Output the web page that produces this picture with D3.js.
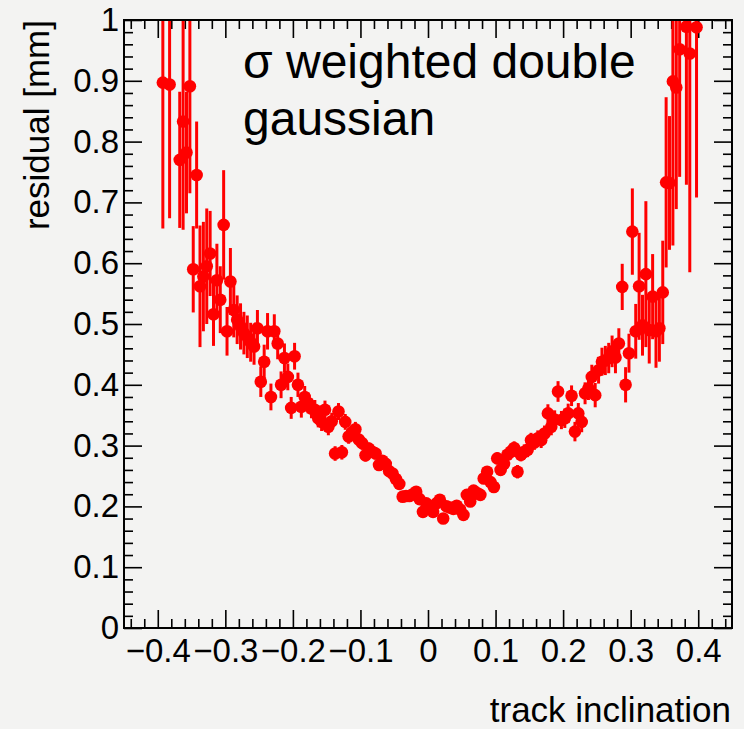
<!DOCTYPE html>
<html>
<head>
<meta charset="utf-8">
<script src="https://cdn.jsdelivr.net/npm/d3@7"></script>
<style>
  html, body { margin: 0; padding: 0; background: #f3f3f2; }
  svg { display: block; }
  text { font-family: "Liberation Sans", Arial, Helvetica, sans-serif; fill: #000; }
</style>
</head>
<body>
<svg id="chart" width="744" height="729"></svg>
<script>
// ---- data ----
const inclination = [
  -0.3925, -0.3825, -0.3675, -0.3625, -0.3575, -0.3525, -0.3475, -0.3425, -0.3375, -0.3325,
  -0.3275, -0.3225, -0.3175, -0.3125, -0.3075, -0.3025, -0.2975, -0.2925, -0.2875, -0.2825,
  -0.2775, -0.2725, -0.2675, -0.2625, -0.2575, -0.2525, -0.2475, -0.2425, -0.2375, -0.2325,
  -0.2275, -0.2225, -0.2175, -0.2125, -0.2075, -0.2025, -0.1975, -0.1925, -0.1875, -0.1825,
  -0.1775, -0.1725, -0.1675, -0.1625, -0.1575, -0.1525, -0.1475, -0.1425, -0.1375, -0.1325,
  -0.1275, -0.1225, -0.1175, -0.1125, -0.1075, -0.1025, -0.0975, -0.0925, -0.0875, -0.0825,
  -0.0775, -0.0725, -0.0675, -0.0625, -0.0575, -0.0525, -0.0475, -0.0425, -0.0375, -0.0325,
  -0.0275, -0.0225, -0.0175, -0.0125, -0.0075, -0.0025, 0.0025, 0.0075, 0.0125, 0.0175,
  0.0225, 0.0275, 0.0325, 0.0375, 0.0425, 0.0475, 0.0525, 0.0575, 0.0625, 0.0675,
  0.0725, 0.0775, 0.0825, 0.0875, 0.0925, 0.0975, 0.1025, 0.1075, 0.1125, 0.1175,
  0.1225, 0.1275, 0.1325, 0.1375, 0.1425, 0.1475, 0.1525, 0.1575, 0.1625, 0.1675,
  0.1725, 0.1775, 0.1825, 0.1875, 0.1925, 0.1975, 0.2025, 0.2075, 0.2125, 0.2175,
  0.2225, 0.2275, 0.2325, 0.2375, 0.2425, 0.2475, 0.2525, 0.2575, 0.2625, 0.2675,
  0.2725, 0.2775, 0.2825, 0.2875, 0.2925, 0.2975, 0.3025, 0.3075, 0.3125, 0.3175,
  0.3225, 0.3275, 0.3325, 0.3375, 0.3425, 0.3475, 0.3525, 0.3575, 0.3625, 0.3675,
  0.3725, 0.3825, 0.3875, 0.3975
];
const residual = [
  0.897, 0.894, 0.770, 0.833, 0.782, 0.891, 0.590, 0.745, 0.562, 0.578,
  0.595, 0.616, 0.516, 0.572, 0.540, 0.663, 0.488, 0.570, 0.523, 0.507,
  0.496, 0.485, 0.479, 0.470, 0.463, 0.493, 0.405, 0.438, 0.488, 0.380,
  0.488, 0.468, 0.400, 0.444, 0.413, 0.362, 0.447, 0.400, 0.364, 0.380,
  0.370, 0.361, 0.359, 0.345, 0.339, 0.359, 0.331, 0.340, 0.287, 0.356,
  0.289, 0.339, 0.315, 0.322, 0.327, 0.310, 0.304, 0.284, 0.295, 0.290,
  0.287, 0.268, 0.275, 0.270, 0.258, 0.254, 0.245, 0.237, 0.216, 0.217,
  0.217, 0.220, 0.224, 0.212, 0.191, 0.205, 0.200, 0.191, 0.205, 0.211,
  0.180, 0.200, 0.198, 0.196, 0.201, 0.195, 0.186, 0.219, 0.208, 0.226,
  0.222, 0.219, 0.246, 0.257, 0.240, 0.232, 0.279, 0.260, 0.270, 0.285,
  0.290, 0.296, 0.257, 0.285, 0.290, 0.293, 0.309, 0.305, 0.312, 0.309,
  0.320, 0.353, 0.331, 0.343, 0.389, 0.342, 0.345, 0.353, 0.382, 0.323,
  0.353, 0.339, 0.386, 0.394, 0.413, 0.383, 0.424, 0.438, 0.440, 0.444,
  0.455, 0.445, 0.468, 0.561, 0.400, 0.452, 0.652, 0.488, 0.562, 0.498,
  0.582, 0.490, 0.545, 0.488, 0.493, 0.552, 0.733, 0.732, 0.899, 0.889,
  0.952, 0.989, 0.945, 0.988
];
const residualError = [
  0.240, 0.220, 0.112, 0.178, 0.100, 0.176, 0.071, 0.088, 0.100, 0.090,
  0.095, 0.070, 0.052, 0.060, 0.055, 0.090, 0.040, 0.055, 0.045, 0.040,
  0.038, 0.035, 0.035, 0.032, 0.030, 0.030, 0.025, 0.028, 0.030, 0.022,
  0.028, 0.026, 0.022, 0.024, 0.022, 0.018, 0.022, 0.020, 0.018, 0.018,
  0.017, 0.016, 0.016, 0.015, 0.015, 0.015, 0.014, 0.014, 0.012, 0.014,
  0.012, 0.013, 0.012, 0.012, 0.012, 0.011, 0.011, 0.010, 0.010, 0.010,
  0.010, 0.009, 0.009, 0.009, 0.009, 0.009, 0.008, 0.008, 0.008, 0.008,
  0.008, 0.008, 0.008, 0.008, 0.008, 0.008, 0.008, 0.008, 0.008, 0.008,
  0.008, 0.008, 0.008, 0.008, 0.008, 0.008, 0.008, 0.008, 0.008, 0.008,
  0.008, 0.008, 0.009, 0.009, 0.009, 0.009, 0.010, 0.010, 0.010, 0.010,
  0.011, 0.011, 0.011, 0.011, 0.012, 0.012, 0.012, 0.012, 0.013, 0.013,
  0.013, 0.015, 0.014, 0.015, 0.017, 0.015, 0.016, 0.016, 0.017, 0.016,
  0.017, 0.017, 0.018, 0.019, 0.020, 0.020, 0.022, 0.023, 0.024, 0.025,
  0.026, 0.026, 0.025, 0.038, 0.029, 0.032, 0.071, 0.045, 0.088, 0.050,
  0.120, 0.055, 0.070, 0.060, 0.055, 0.085, 0.140, 0.110, 0.270, 0.200,
  0.210, 0.260, 0.360, 0.280
];
const xTickValues = [-0.4, -0.3, -0.2, -0.1, 0, 0.1, 0.2, 0.3, 0.4];
const xTickLabels = ["\u22120.4", "\u22120.3", "\u22120.2", "\u22120.1", "0", "0.1", "0.2", "0.3", "0.4"];
const yTickValues = [0, 0.1, 0.2, 0.3, 0.4, 0.5, 0.6, 0.7, 0.8, 0.9, 1];
const yTickLabels = ["0", "0.1", "0.2", "0.3", "0.4", "0.5", "0.6", "0.7", "0.8", "0.9", "1"];
const xTitle = "track inclination";
const yTitle = "residual [mm]";
const annotation = ["\u03C3 weighted double", "gaussian"];

(function () {
// ---- layout ----
const W = 744, H = 729;
const pL = 124, pR = 732, pT = 20, pB = 628;
const red = "#ff0000";
const svg = d3.select("#chart");
svg.append("rect").attr("width", W).attr("height", H).attr("fill", "#f3f3f2");

const x = d3.scaleLinear().domain([-0.45, 0.45]).range([pL, pR]);
const y = d3.scaleLinear().domain([0, 1]).range([pB, pT]);

const xMinor = d3.range(-44, 45, 2).map(v => v / 100).filter(v => Math.abs(Math.round(v * 100) % 10) !== 0);
const yMinor = d3.range(0, 101, 2).map(v => v / 100).filter(v => Math.round(v * 100) % 10 !== 0);

const fmtX = (d) => xTickLabels[xTickValues.indexOf(d)];
const fmtY = (d) => yTickLabels[yTickValues.indexOf(d)];

function styleAxis(g) {
  g.select(".domain").remove();
  g.selectAll(".tick line").attr("stroke", "#000").attr("stroke-width", 1.6);
  g.selectAll(".tick text").attr("font-size", 33).attr("fill", "#000")
    .style("font-family", '"Liberation Sans", Arial, sans-serif');
}

// bottom axis
svg.append("g").attr("transform", `translate(0,${pB})`)
  .call(d3.axisBottom(x).tickValues(xTickValues).tickSize(-18).tickPadding(11).tickFormat(fmtX))
  .call(styleAxis);
svg.append("g").attr("transform", `translate(0,${pB})`)
  .call(d3.axisBottom(x).tickValues(xMinor).tickSize(-9).tickFormat(""))
  .call(styleAxis);
// top axis
svg.append("g").attr("transform", `translate(0,${pT})`)
  .call(d3.axisTop(x).tickValues(xTickValues).tickSize(-18).tickFormat(""))
  .call(styleAxis);
svg.append("g").attr("transform", `translate(0,${pT})`)
  .call(d3.axisTop(x).tickValues(xMinor).tickSize(-9).tickFormat(""))
  .call(styleAxis);
// left axis
svg.append("g").attr("transform", `translate(${pL},0)`)
  .call(d3.axisLeft(y).tickValues(yTickValues).tickSize(-18).tickPadding(5).tickFormat(fmtY))
  .call(styleAxis);
svg.append("g").attr("transform", `translate(${pL},0)`)
  .call(d3.axisLeft(y).tickValues(yMinor).tickSize(-9).tickFormat(""))
  .call(styleAxis);
// right axis
svg.append("g").attr("transform", `translate(${pR},0)`)
  .call(d3.axisRight(y).tickValues(yTickValues).tickSize(-18).tickFormat(""))
  .call(styleAxis);
svg.append("g").attr("transform", `translate(${pR},0)`)
  .call(d3.axisRight(y).tickValues(yMinor).tickSize(-9).tickFormat(""))
  .call(styleAxis);

// frame
svg.append("rect").attr("x", pL).attr("y", pT)
  .attr("width", pR - pL).attr("height", pB - pT)
  .attr("fill", "none").attr("stroke", "#000").attr("stroke-width", 2);

// clip
svg.append("clipPath").attr("id", "plotclip").append("rect")
  .attr("x", pL + 1).attr("y", pT + 1).attr("width", pR - pL - 2).attr("height", pB - pT - 2);

const pts = inclination.map((v, i) => ({ x: v, y: residual[i], e: residualError[i] }));
const gData = svg.append("g").attr("clip-path", "url(#plotclip)");
gData.selectAll("line.err").data(pts).join("line").attr("class", "err")
  .attr("x1", d => x(d.x)).attr("x2", d => x(d.x))
  .attr("y1", d => y(d.y - d.e)).attr("y2", d => y(d.y + d.e))
  .attr("stroke", red).attr("stroke-width", 3);
gData.selectAll("circle").data(pts).join("circle")
  .attr("cx", d => x(d.x)).attr("cy", d => y(d.y)).attr("r", 6.3)
  .attr("fill", red);

// titles
svg.append("text").attr("x", pR - 1).attr("y", 722).attr("text-anchor", "end")
  .attr("font-size", 35).text(xTitle);
svg.append("text").attr("transform", `translate(49,${pT}) rotate(-90)`)
  .attr("text-anchor", "end").attr("font-size", 35).text(yTitle);

// annotation
svg.append("text").attr("x", 243).attr("y", 78).attr("font-size", 48).text(annotation[0]);
svg.append("text").attr("x", 243).attr("y", 135).attr("font-size", 48).text(annotation[1]);
})();
</script>
</body>
</html>
